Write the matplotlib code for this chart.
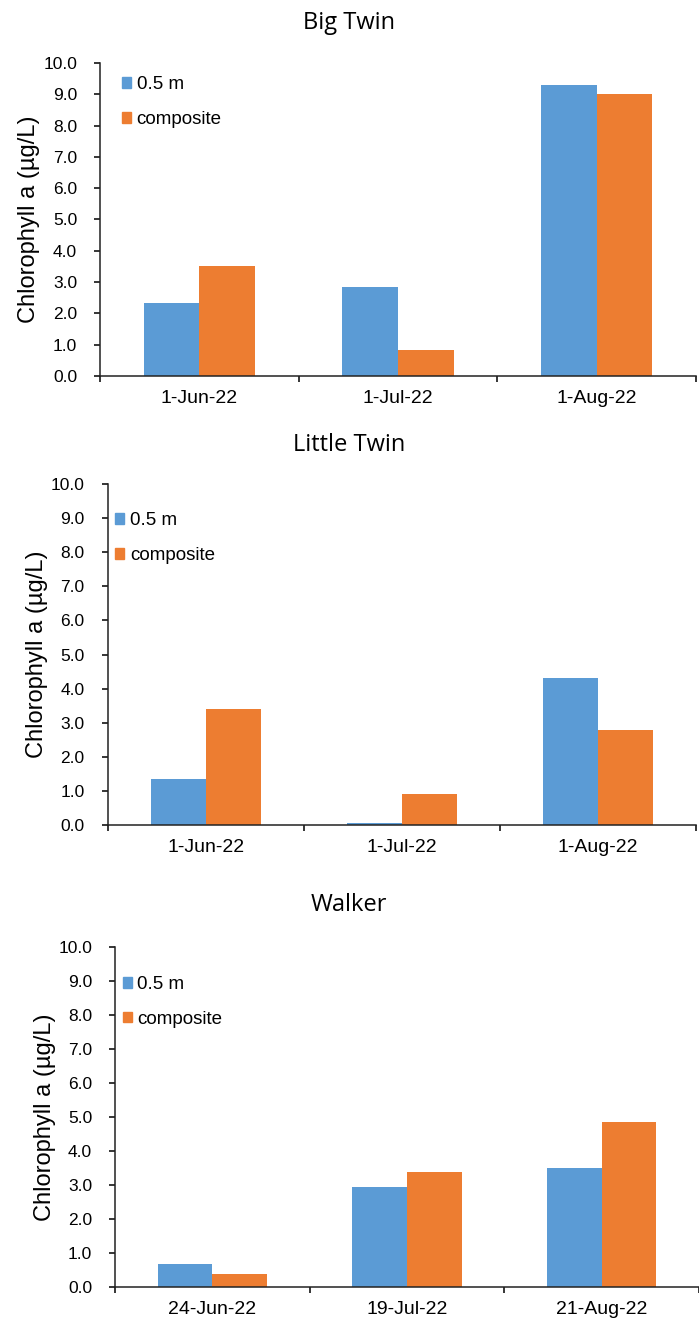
import matplotlib

matplotlib.use("Agg")
import matplotlib.pyplot as plt
import numpy as np
from matplotlib.patches import Patch

# values (Chlorophyll a, ug/L)
big_twin_dates = ["1-Jun-22", "1-Jul-22", "1-Aug-22"]
big_twin_surface = [2.34, 2.83, 9.30]
big_twin_composite = [3.51, 0.82, 9.02]

little_twin_dates = ["1-Jun-22", "1-Jul-22", "1-Aug-22"]
little_twin_surface = [1.35, 0.05, 4.32]
little_twin_composite = [3.39, 0.90, 2.79]

walker_dates = ["24-Jun-22", "19-Jul-22", "21-Aug-22"]
walker_surface = [0.69, 2.94, 3.51]
walker_composite = [0.38, 3.39, 4.86]

BLUE = "#5B9BD5"
ORANGE = "#ED7D31"
TEXT_FONT = ["Liberation Sans", "DejaVu Sans"]
TITLE_FONT = ["Open Sans", "DejaVu Sans"]

fig = plt.figure(figsize=(6.99, 13.22), dpi=100)

# (title, dates, 0.5 m, composite, axes rect, title y, legend anchor)
panels = [
    ("Big Twin", big_twin_dates, big_twin_surface, big_twin_composite,
     [0.1431, 0.7156, 0.8526, 0.2368], 0.9826, (0.037, 0.958)),
    ("Little Twin", little_twin_dates, little_twin_surface, little_twin_composite,
     [0.1539, 0.3759, 0.8418, 0.2579], 0.6634, (0.013, 0.918)),
    ("Walker", walker_dates, walker_surface, walker_composite,
     [0.1645, 0.0265, 0.8355, 0.2572], 0.3154, (0.013, 0.915)),
]

for title, dates, surface, composite, rect, title_y, leg_xy in panels:
    ax = fig.add_axes(rect)
    x = np.arange(len(dates))
    w = 0.28
    ax.bar(x - w / 2, surface, w, color=BLUE)
    ax.bar(x + w / 2, composite, w, color=ORANGE)

    ax.set_xlim(-0.5, len(dates) - 0.5)
    ax.set_ylim(0, 10)
    yt = np.arange(0, 10.1, 1.0)
    ax.set_yticks(yt)
    ax.set_yticklabels([f"{v:.1f}" for v in yt], family=TEXT_FONT, fontsize=12.5)
    ax.set_xticks(x)
    ax.set_xticklabels(dates, family=TEXT_FONT, fontsize=14)
    # category boundaries get the tick marks, like Excel
    ax.set_xticks(np.arange(-0.5, len(dates)), minor=True)
    ax.tick_params(axis="x", which="major", length=0, pad=10)
    ax.tick_params(axis="x", which="minor", length=4.5, width=1.1, direction="out")
    ax.tick_params(axis="y", length=4.5, width=1.1, direction="out", pad=12)

    for side in ("top", "right"):
        ax.spines[side].set_visible(False)
    for side in ("left", "bottom"):
        ax.spines[side].set_linewidth(1.1)
        ax.spines[side].set_color("#222222")

    ax.set_ylabel("Chlorophyll a (µg/L)", family=TEXT_FONT, fontsize=17)
    ax.yaxis.set_label_coords(-0.101, 0.5)

    fig.text(0.4993, title_y, title, family=TITLE_FONT, fontsize=17,
             ha="center", va="center")

    handles = [Patch(color=BLUE), Patch(color=ORANGE)]
    ax.legend(handles, ["0.5 m", "composite"], loc="upper left",
              bbox_to_anchor=leg_xy, frameon=False, borderpad=0,
              borderaxespad=0, handlelength=0.48, handleheight=0.5,
              handletextpad=0.3, labelspacing=0.95,
              prop={"family": TEXT_FONT, "size": 13.5})

fig.savefig("out.png", dpi=100)
plt.close(fig)
